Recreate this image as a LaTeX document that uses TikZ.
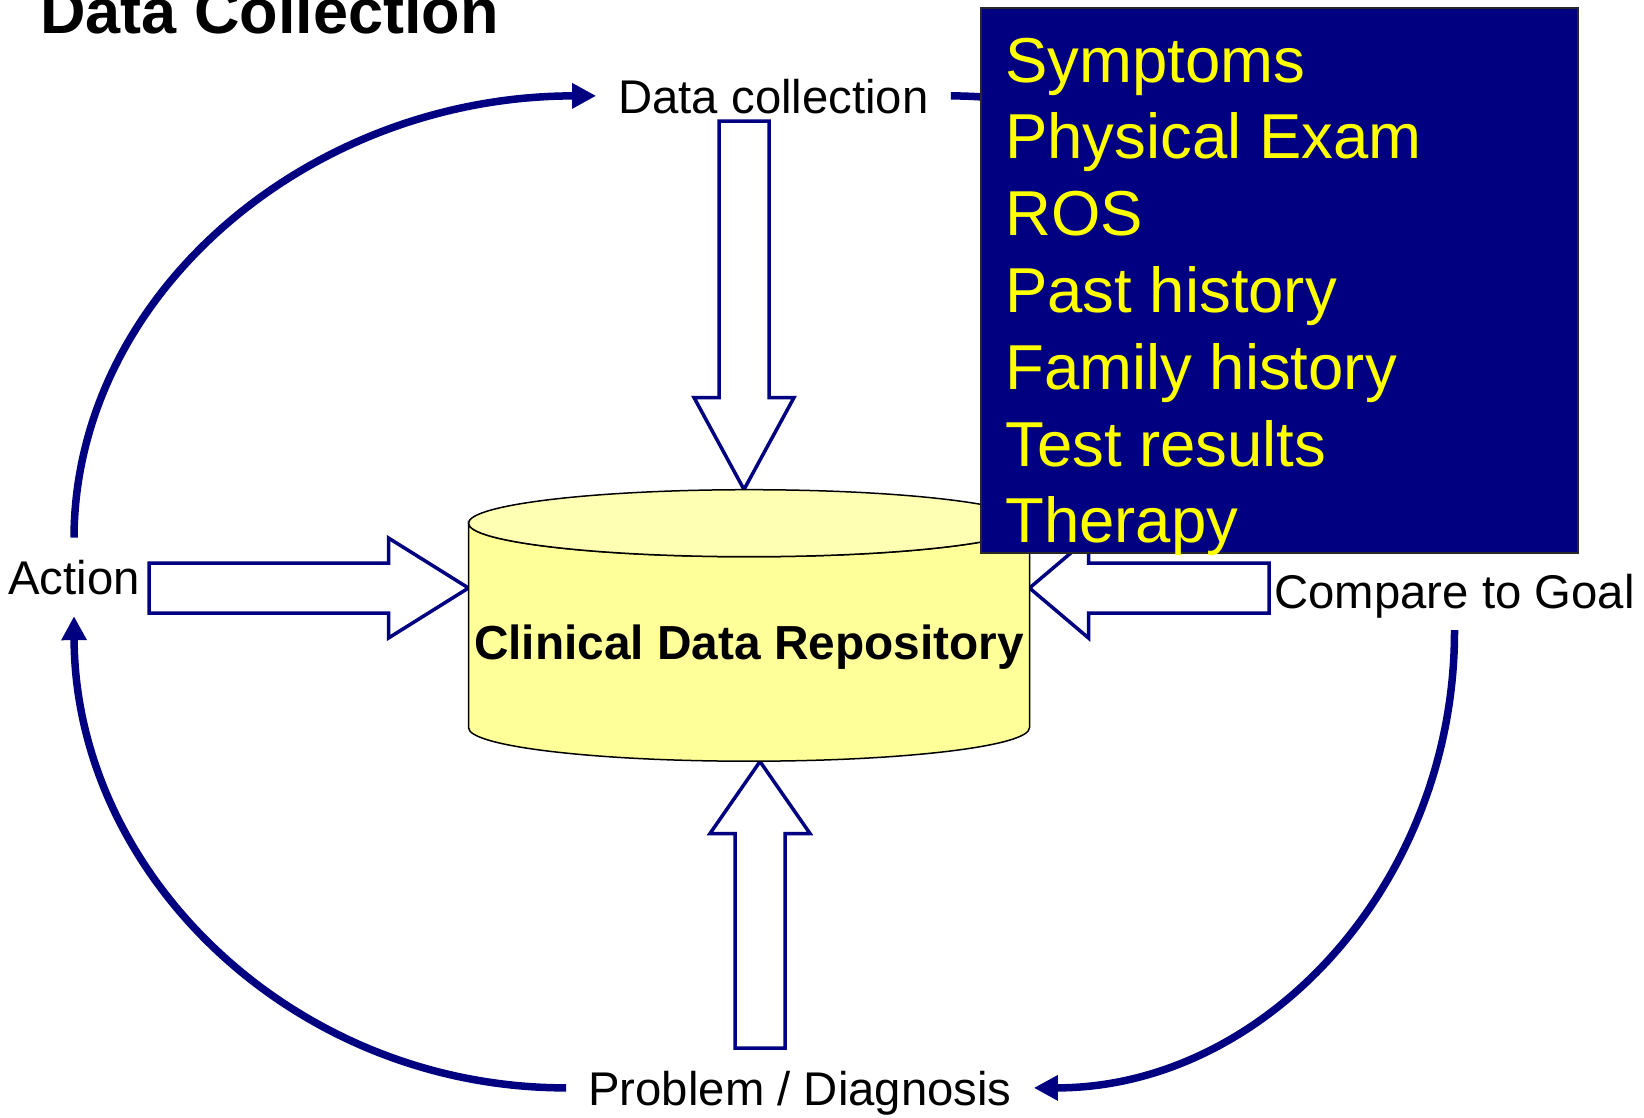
\documentclass[tikz,border=0pt]{standalone}
\usepackage{fontspec}
\setmainfont{Liberation Sans}
\usetikzlibrary{calc,arrows.meta}

\definecolor{navy}{RGB}{0,0,128}
\definecolor{cylbody}{RGB}{255,255,153}
\definecolor{cyltop}{RGB}{255,255,180}
\definecolor{boxtext}{RGB}{255,255,0}

\tikzset{
  lbl/.style={font=\fontsize{47.3}{56}\selectfont, text depth=0pt, inner xsep=22pt, inner ysep=22pt},
  cyclearr/.style={draw=navy, line width=7.5pt, -{Triangle[length=24pt,width=24pt]}},
  blockarr/.style={draw=navy, fill=white, line width=3.5pt, line join=miter},
  infobox/.style={fill=navy, draw={rgb,255:red,40;green,40;blue,40}, line width=1.5pt},
  itemtext/.style={font=\fontsize{63.5}{76}\selectfont, text=boxtext, inner sep=0pt, anchor=base west},
}

% hollow arrow: tail, tip, head length
\newcommand{\blockarrow}[3]{%
  \coordinate (ba-h) at ($(#2)!#3!(#1)$);
  \draw[blockarr] ($(#1)!25pt!90:(#2)$) -- ($(ba-h)!25pt!-90:(#1)$) -- ($(ba-h)!50pt!-90:(#1)$)
    -- (#2) -- ($(ba-h)!50pt!90:(#1)$) -- ($(ba-h)!25pt!90:(#1)$) -- ($(#1)!25pt!-90:(#2)$) -- cycle;
}

\begin{document}
\begin{tikzpicture}[x=1pt, y=1pt]
\useasboundingbox (0,0) rectangle (1644,-1117);
\clip (0,0) rectangle (1644,-1117);
%% title;
\node[anchor=base west, inner sep=0pt, font=\bfseries\fontsize{63}{75}\selectfont] (title) at (40,-33) {Data Collection};
%% labels;
\node[lbl, anchor=base] (dc) at (773.5,-113) {Data collection};
\node[lbl, anchor=base] (act) at (74,-594) {Action};
\node[lbl, anchor=base] (cmp) at (1454.5,-608) {Compare to Goal};
\node[lbl, anchor=base] (prob) at (800,-1105) {Problem / Diagnosis};
\coordinate (goalin) at (1455,-545);
%% cycle;
\draw[cyclearr] (act.north) .. controls (75,-294) and (309,-96) .. (dc.west);
\draw[cyclearr] (dc.east) .. controls (1230,-97) and (1455,-330) .. (goalin);
\draw[cyclearr] (cmp.south) .. controls (1455,-882) and (1266,-1088) .. (prob.east);
\draw[cyclearr] (prob.west) .. controls (294,-1088) and (75,-875) .. (act.south);
%% block arrows;
\coordinate (dc-tail) at (744,-121);
\coordinate (cdr-top) at (744,-489.5);
\coordinate (prob-tail) at (760,-1048);
\coordinate (cdr-bot) at (760,-761.5);
\coordinate (act-tail) at (149,-588);
\coordinate (cdr-left) at (468.5,-588);
\coordinate (cmp-tail) at (1269,-588);
\coordinate (cdr-right) at (1029.5,-588);
\blockarrow{dc-tail}{cdr-top}{92pt}
\blockarrow{prob-tail}{cdr-bot}{72pt}
\blockarrow{act-tail}{cdr-left}{80pt}
\blockarrow{cmp-tail}{cdr-right}{59pt}
%% repository;
\draw[fill=cylbody, line width=1.5pt] (468.5,-523.2) -- (468.5,-727.7) arc[start angle=180, end angle=360, x radius=280.5, y radius=33.5] -- (1029.5,-523.2) arc[start angle=0, end angle=-180, x radius=280.5, y radius=33.5] -- cycle;
\draw[fill=cyltop, line width=1.5pt] (749,-523.2) ellipse[x radius=280.5, y radius=33.5];
\node[anchor=base, inner sep=0pt, font=\bfseries\fontsize{47.8}{57}\selectfont] (cdr) at (749,-659) {Clinical Data Repository};
%% data items;
\draw[infobox] (981,-8) rectangle (1578,-553);
\foreach \item [count=\i from 0] in {Symptoms, Physical Exam, ROS, Past history, Family history, Test results, Therapy}
  \node[itemtext] (item\i) at (1005,-82-76.8*\i) {\item};
\end{tikzpicture}
\end{document}
